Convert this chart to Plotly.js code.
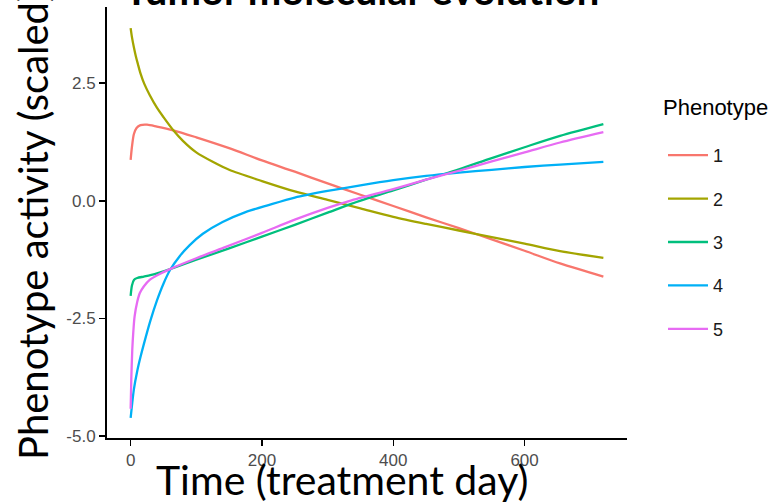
<!DOCTYPE html>
<html>
<head>
<meta charset="utf-8">
<script src="https://cdn.plot.ly/plotly-3.0.1.min.js"></script>
<style>html,body{margin:0;padding:0;background:#fff;}#chart{width:783px;height:504px;}</style>
</head>
<body>
<div id="chart"></div>
<script>
// Phenotype 1 (red)
const p1Days = [0, 2, 5, 9, 15, 25, 40, 65, 100, 150, 200, 250, 300, 350, 400, 450, 500, 550, 600, 654, 720];
const p1Vals = [0.87, 1.15, 1.42, 1.55, 1.61, 1.62, 1.58, 1.50, 1.35, 1.12, 0.86, 0.62, 0.37, 0.13, -0.11, -0.35, -0.58, -0.82, -1.06, -1.33, -1.61];
// Phenotype 2 (olive)
const p2Days = [0, 2, 5, 8, 11, 15, 21, 29, 40, 50, 65, 80, 100, 125, 150, 200, 250, 300, 350, 400, 450, 500, 550, 600, 654, 720];
const p2Vals = [3.67, 3.48, 3.26, 3.07, 2.91, 2.71, 2.48, 2.25, 1.98, 1.78, 1.50, 1.27, 1.03, 0.83, 0.66, 0.42, 0.20, 0.02, -0.16, -0.34, -0.49, -0.63, -0.77, -0.91, -1.07, -1.21];
// Phenotype 3 (green)
const p3Days = [0, 2, 5, 10, 20, 30, 45, 60, 100, 150, 200, 250, 300, 349, 400, 450, 500, 550, 600, 654, 720];
const p3Vals = [-2.02, -1.80, -1.68, -1.64, -1.61, -1.58, -1.52, -1.45, -1.25, -1.01, -0.76, -0.51, -0.25, 0.0, 0.22, 0.45, 0.67, 0.91, 1.14, 1.38, 1.63];
// Phenotype 4 (blue)
const p4Days = [0, 2, 5, 10, 15, 20, 30, 40, 50, 60, 75, 90, 110, 140, 175, 210, 250, 300, 350, 400, 450, 500, 550, 600, 654, 720];
const p4Vals = [-4.61, -4.35, -4.0, -3.62, -3.32, -3.05, -2.55, -2.12, -1.76, -1.47, -1.17, -0.94, -0.70, -0.45, -0.24, -0.09, 0.07, 0.21, 0.33, 0.44, 0.53, 0.60, 0.66, 0.72, 0.77, 0.83];
// Phenotype 5 (purple)
const p5Days = [0, 1, 2.5, 4, 6, 10, 14, 20, 29, 45, 60, 100, 141, 200, 250, 300, 334, 400, 450, 500, 550, 600, 654, 720];
const p5Vals = [-4.42, -3.80, -3.16, -2.80, -2.46, -2.15, -1.96, -1.82, -1.68, -1.55, -1.45, -1.22, -1.00, -0.68, -0.40, -0.15, 0.0, 0.25, 0.45, 0.64, 0.84, 1.03, 1.24, 1.46];

const phenotypeNames = ["1", "2", "3", "4", "5"];
const seriesDays = [p1Days, p2Days, p3Days, p4Days, p5Days];
const seriesVals = [p1Vals, p2Vals, p3Vals, p4Vals, p5Vals];
const colors = ["#F8766D", "#A3A500", "#00BF7D", "#00B0F6", "#E76BF3"];

const xTickVals = [0, 200, 400, 600];
const xTickText = ["0", "200", "400", "600"];
const yTickVals = [-5, -2.5, 0, 2.5];
const yTickText = ["-5.0", "-2.5", "0.0", "2.5"];

const traces = phenotypeNames.map((n, i) => ({
  type: "scatter",
  mode: "lines",
  name: n,
  legendgroup: "g" + n,
  x: seriesDays[i],
  y: seriesVals[i],
  line: {color: colors[i], width: 2.3, shape: "spline", smoothing: 0.8}
}));

const W = 783, H = 504;
const L = 107, R = 156, T = 7, B = 66;
const pw = W - L - R, ph = H - T - B;
function px2paperX(p) { return (p - L) / pw; }
function px2paperY(p) { return (H - B - p) / ph; }

const arial = "'Liberation Sans', Arial, sans-serif";
const humanist = "Lato, 'Open Sans', sans-serif";

const layout = {
  width: W, height: H,
  margin: {l: L, r: R, t: T, b: B, pad: 0},
  paper_bgcolor: "#fff", plot_bgcolor: "#fff",
  showlegend: true,
  title: {
    text: "<b>Tumor molecular evolution</b>",
    font: {family: humanist, size: 40, color: "#000"},
    x: 362 / W, xanchor: "center", xref: "container",
    y: 1 - 5 / H, yanchor: "bottom", yref: "container"
  },
  xaxis: {
    range: [-36, 756],
    tickvals: xTickVals, ticktext: xTickText,
    showgrid: false, zeroline: false,
    showline: true, linecolor: "#000", linewidth: 2,
    ticks: "outside", ticklen: 6, tickwidth: 1.5, tickcolor: "#000",
    tickfont: {family: arial, size: 17, color: "#4D4D4D"}
  },
  yaxis: {
    range: [-5.04, 4.12],
    tickvals: yTickVals, ticktext: yTickText,
    showgrid: false, zeroline: false,
    showline: true, linecolor: "#000", linewidth: 2,
    ticks: "outside", ticklen: 6, tickwidth: 1.5, tickcolor: "#000",
    tickfont: {family: arial, size: 17, color: "#4D4D4D"}
  },
  legend: {
    x: px2paperX(663), xanchor: "left",
    y: px2paperY(137), yanchor: "top",
    traceorder: "grouped",
    tracegroupgap: 17,
    itemwidth: 40,
    font: {family: arial, size: 18, color: "#1a1a1a"},
    bgcolor: "rgba(0,0,0,0)"
  },
  annotations: [
    {
      text: "Phenotype", showarrow: false,
      xref: "paper", yref: "paper",
      x: px2paperX(661), xanchor: "left",
      y: px2paperY(107), yanchor: "middle",
      font: {family: arial, size: 22, color: "#000"}
    },
    {
      text: "Time (treatment day)", showarrow: false,
      xref: "paper", yref: "paper",
      x: px2paperX(342), xanchor: "center",
      y: px2paperY(479), yanchor: "middle",
      font: {family: humanist, size: 41, color: "#000"}
    },
    {
      text: "Phenotype activity (scaled)", showarrow: false, textangle: -90,
      xref: "paper", yref: "paper",
      x: px2paperX(33), xanchor: "center",
      y: px2paperY(226), yanchor: "middle",
      font: {family: humanist, size: 40, color: "#000"}
    }
  ]
};

Plotly.newPlot("chart", traces, layout, {displayModeBar: false, staticPlot: true});
</script>
</body>
</html>
